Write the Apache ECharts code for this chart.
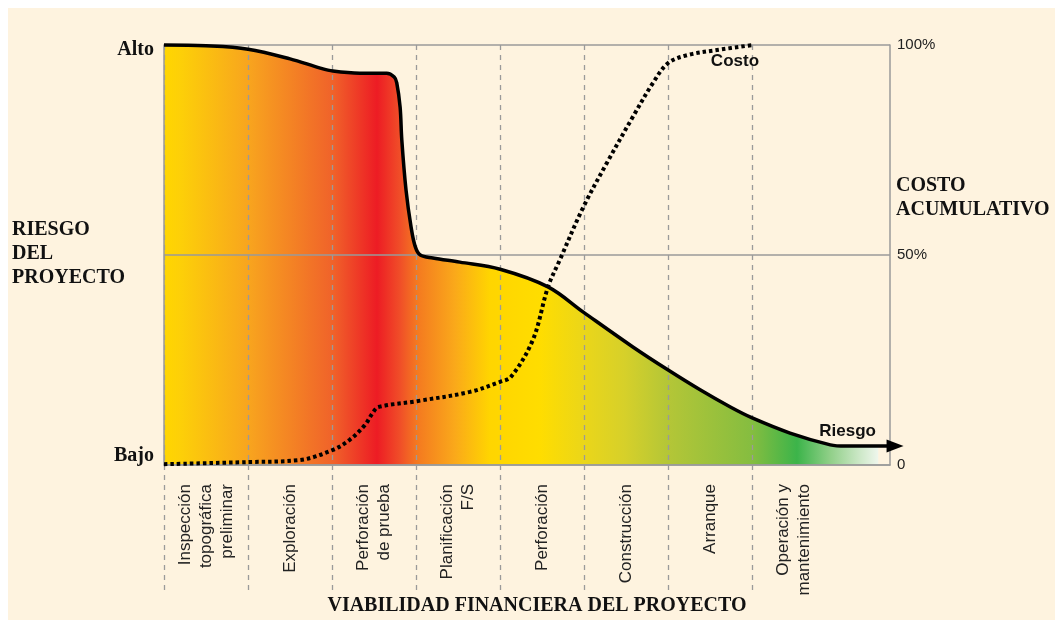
<!DOCTYPE html>
<html>
<head>
<meta charset="utf-8">
<title>Riesgo del proyecto y costo acumulativo</title>
<script src="https://cdn.jsdelivr.net/npm/echarts@6/dist/echarts.min.js"></script>
<style>
    body { margin: 0; background: #ffffff; }
    .fondo { position: absolute; left: 8px; top: 8px; width: 1047px; height: 612px; background: #fef3df; }
    .chart { position: absolute; left: 0; top: 0; width: 1055px; height: 627px; }
</style>
</head>
<body>
<div class="fondo"></div>
<div id="main" class="chart"></div>
<script>
// etapas del proyecto (eje x)
var categorias = ['Inspección\ntopográfica\npreliminar', 'Exploración', 'Perforación\nde prueba', 'Planificación\nF/S',
    'Perforación', 'Construcción', 'Arranque', 'Operación y\nmantenimiento'];

// curva de riesgo (x en etapas, y de 0 = bajo a 100 = alto)
var riesgoX = [0, 0.5, 1, 1.5, 1.86, 2.01, 2.33, 2.65, 2.74, 2.77, 2.81, 2.83, 2.88, 2.94, 2.99, 3.05, 3.2, 3.52, 4,
    4.57, 4.99, 5.58, 6, 6.38, 6.74, 7, 7.45, 7.93, 8.11, 8.61, 8.70];
var riesgoY = [100, 99.8, 99, 96.7, 94.5, 93.8, 93.3, 93.3, 92.4, 91, 85.2, 77.4, 65.5, 56.7, 52, 50, 49.3, 48.3, 46.6,
    42.4, 36.4, 28.1, 22.6, 17.9, 13.8, 11.2, 7.6, 4.8, 4.5, 4.5, 4.5];

// costo acumulativo (%)
var costoX = [0, 1, 1.62, 2.01, 2.21, 2.39, 2.49, 2.55, 3.01, 3.64, 4, 4.13, 4.39, 4.57, 4.71, 4.99, 5.27, 5.58,
    5.82, 6, 6.23, 6.58, 7.01];
var costoY = [0.2, 0.7, 1.2, 3.6, 6, 9.5, 12.6, 13.8, 15.2, 17.4, 19.8, 21, 29.8, 42.4, 48.8, 61.4, 71.9, 82.9,
    91, 95.7, 97.6, 98.8, 100];

// ticks de los ejes verticales
var ticksRiesgo = { 0: 'Bajo', 100: 'Alto' };
var ticksCosto = { 0: '0', 50: '50%', 100: '100%' };

function pares(xs, ys) {
    return xs.map(function (x, i) { return [x, ys[i]]; });
}

// degradado horizontal del area (px del lienzo)
var x0 = 164, x1 = 895;
function p(px) { return (px - x0) / (x1 - x0); }
var degradado = {
    type: 'linear', x: x0, y: 0, x2: x1, y2: 0, global: true,
    colorStops: [
        { offset: 0, color: '#ffd600' },
        { offset: p(180), color: '#fdd008' },
        { offset: p(248), color: '#f8a51e' },
        { offset: p(333), color: '#f0622a' },
        { offset: p(377), color: '#ed1c24' },
        { offset: p(400), color: '#f04e28' },
        { offset: p(417), color: '#f47920' },
        { offset: p(455), color: '#faa91a' },
        { offset: p(490), color: '#ffd500' },
        { offset: p(540), color: '#ffdd00' },
        { offset: p(585), color: '#ead61a' },
        { offset: p(625), color: '#d6d02a' },
        { offset: p(668), color: '#b4c637' },
        { offset: p(752), color: '#85bd40' },
        { offset: p(797), color: '#3cb44a' },
        { offset: p(830), color: '#90cf88' },
        { offset: p(860), color: '#cde8c8' },
        { offset: p(878), color: '#eef6ec' },
        { offset: p(879), color: 'rgba(254,243,223,0)' },
        { offset: 1, color: 'rgba(254,243,223,0)' }
    ]
};

var gris = '#9a9a9a';
var serif = { fontFamily: 'Liberation Serif', fontWeight: 'bold', fontSize: 20, color: '#111', lineHeight: 24 };

var option = {
    animation: false,
    title: [
        { text: 'RIESGO\nDEL\nPROYECTO', left: 12, top: 218, padding: 0, textStyle: serif },
        { text: 'COSTO\nACUMULATIVO', left: 896, top: 174, padding: 0, textStyle: serif },
        { text: 'VIABILIDAD FINANCIERA DEL PROYECTO', left: 537, textAlign: 'center', top: 594, padding: 0, textStyle: serif }
    ],
    grid: [
        { left: 164, right: 165, top: 45, bottom: 162 },
        { left: 164, right: 219, top: 45, bottom: 37 }
    ],
    xAxis: [
        {
            gridIndex: 0, type: 'value', min: 0, max: 8.64, z: 3,
            axisLine: { show: true, lineStyle: { color: gris, width: 1.5 } },
            axisTick: { show: false }, axisLabel: { show: false }, splitLine: { show: false }
        },
        {
            // lineas discontinuas entre etapas
            gridIndex: 1, type: 'value', min: 0, max: 8, interval: 1, z: 3,
            axisLine: { show: false }, axisTick: { show: false }, axisLabel: { show: false },
            splitLine: { show: true, showMinLine: true, showMaxLine: false, lineStyle: { color: gris, width: 1.3, type: [5, 5] } }
        },
        {
            gridIndex: 1, type: 'category', data: categorias, position: 'bottom', offset: -125,
            axisLine: { show: false }, axisTick: { show: false }, splitLine: { show: false },
            axisLabel: { interval: 0, rotate: 90, margin: 19, fontFamily: 'Liberation Sans', fontSize: 17, lineHeight: 21, color: '#222' }
        }
    ],
    yAxis: [
        {
            gridIndex: 0, type: 'value', min: 0, max: 100, interval: 50, position: 'left', z: 3,
            axisLine: { show: true, lineStyle: { color: gris, width: 1.5 } },
            axisTick: { show: false },
            axisLabel: {
                margin: 10,
                formatter: function (v) {
                    if (v === 100) return '{hi|' + ticksRiesgo[v] + '}';
                    if (v === 0) return '{lo|' + ticksRiesgo[v] + '}';
                    return '';
                },
                rich: {
                    hi: { fontFamily: 'Liberation Serif', fontWeight: 'bold', fontSize: 20, color: '#111', padding: [10, 0, 0, 0] },
                    lo: { fontFamily: 'Liberation Serif', fontWeight: 'bold', fontSize: 20, color: '#111', padding: [0, 0, 18, 0] }
                }
            },
            splitLine: { show: true, lineStyle: { color: gris, width: 1.5 } }
        },
        {
            gridIndex: 0, type: 'value', min: 0, max: 100, interval: 50, position: 'right', z: 3,
            axisLine: { show: true, lineStyle: { color: gris, width: 1.5 } },
            axisTick: { show: false },
            axisLabel: {
                margin: 7, fontFamily: 'Liberation Sans', fontSize: 15, color: '#222',
                formatter: function (v) { return ticksCosto[v] || ''; }
            },
            splitLine: { show: false }
        },
        { gridIndex: 1, type: 'value', min: 0, max: 1, show: false }
    ],
    series: [
        {
            // relleno de color bajo la curva de riesgo
            name: 'area', type: 'line', xAxisIndex: 0, yAxisIndex: 0, z: 1, silent: true, clip: false,
            data: pares(riesgoX, riesgoY), smooth: 0.35, symbol: 'none',
            lineStyle: { width: 0 }, areaStyle: { color: degradado, opacity: 1 }
        },
        {
            name: 'Riesgo', type: 'line', xAxisIndex: 0, yAxisIndex: 0, z: 5, clip: false,
            data: pares(riesgoX, riesgoY).map(function (d, i, arr) {
                if (i < arr.length - 1) return d;
                return { value: d, symbol: 'triangle', symbolSize: [13, 17], symbolRotate: -90, itemStyle: { color: '#000' } };
            }),
            smooth: 0.35, symbol: 'none',
            lineStyle: { color: '#000', width: 3.5 },
            endLabel: {
                show: true, formatter: 'Riesgo', align: 'right', verticalAlign: 'bottom', offset: [-25, -6],
                fontFamily: 'Liberation Sans', fontWeight: 'bold', fontSize: 17, color: '#111'
            }
        },
        {
            name: 'Costo', type: 'line', xAxisIndex: 0, yAxisIndex: 1, z: 6,
            data: pares(costoX, costoY), smooth: 0.35, symbol: 'none',
            lineStyle: { color: '#000', width: 4, type: [3.5, 3] },
            endLabel: {
                show: true, formatter: 'Costo', align: 'right', verticalAlign: 'top', offset: [-2, 8],
                fontFamily: 'Liberation Sans', fontWeight: 'bold', fontSize: 17, color: '#111'
            }
        }
    ]
};

var myChart = echarts.init(document.getElementById('main'));
myChart.setOption(option);
</script>
</body>
</html>
